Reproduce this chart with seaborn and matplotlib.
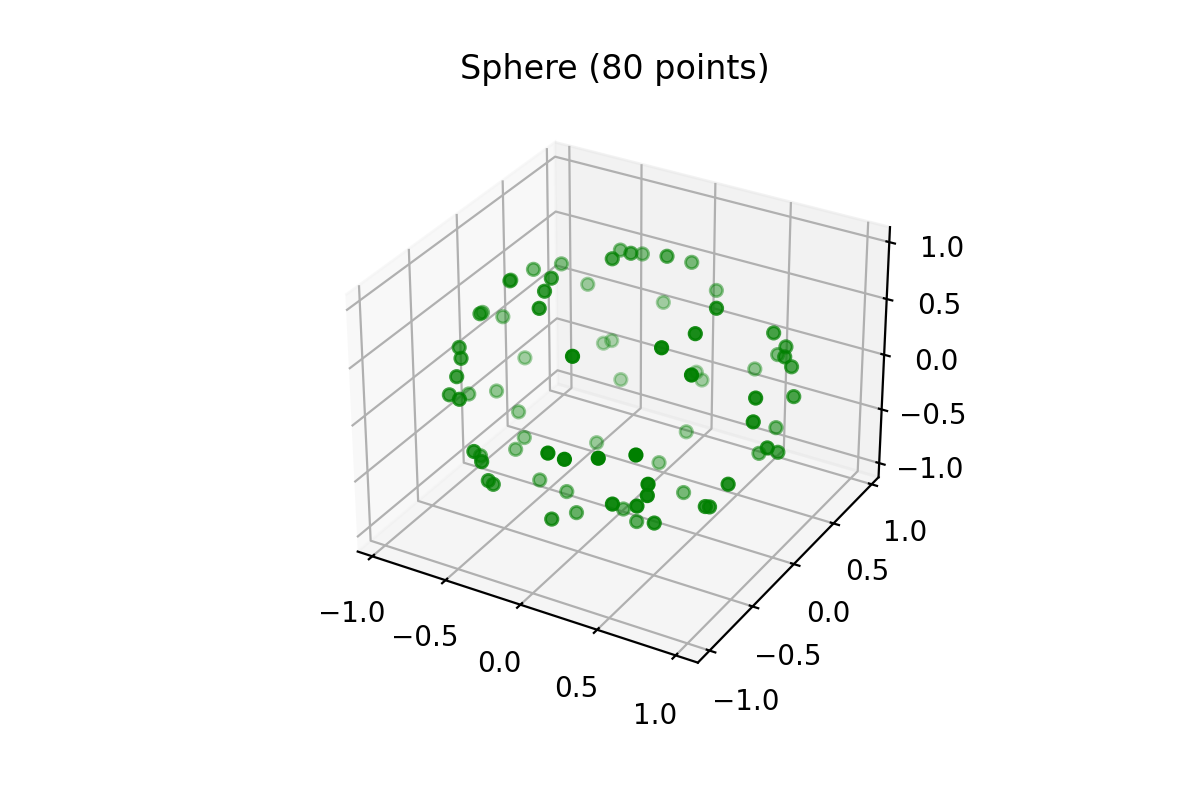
import numpy as np
import matplotlib
matplotlib.use("Agg")
import matplotlib.pyplot as plt
import seaborn as sns

TITLE = "Sphere (80 points)"
TICKS = [-1.0, -0.5, 0.0, 0.5, 1.0]

xs = [-.37,-.15,-.12,-.69,-.76,-.38,-.76,-.66,-.34,-.29,-.75,-.96,-.96,-.57,-.53,.07,-.78,-.71,-.88,-.69,
      -.42,-.75,-.61,-.94,-.90,-.78,-.68,-.66,.10,.20,.38,-.36,.56,-.45,-.68,-.38,-.41,-.39,-.44,-.28,
      -.29,.05,.02,.09,-.27,.55,.57,.48,.76,.80,.58,.86,.87,.40,.67,.00,.05,.93,.94,.96,
      .73,.09,.99,.93,.69,.04,.90,.62,.61,.33,.79,.79,.57,.44,.08,.55,.25,-.10,-.01,-.76]
ys = [.62,.15,.31,.48,.28,-.14,.02,.73,-.28,-.42,-.32,.03,.25,.76,.79,-.66,-.50,-.59,.36,-.67,
      .71,-.66,-.77,-.17,.07,.12,.02,-.11,-.98,-.97,-.91,.32,-.81,-.88,-.46,-.91,-.80,-.78,-.20,-.16,
      .74,.43,.78,.96,.96,.11,-.17,-.39,.41,.49,.82,.36,.43,.88,-.39,.89,.87,-.12,.33,-.20,
      .53,.61,-.08,.17,.40,.37,-.37,-.78,-.77,.15,-.43,-.38,-.62,-.86,-.12,-.78,-.26,-.35,-.77,.03]
zs = [.69,.98,.94,.54,.59,.91,.65,.21,.90,.86,.58,.29,.11,-.32,-.30,.74,.39,.38,-.31,.28,
      -.57,.09,.18,-.31,-.43,-.61,-.74,-.75,.14,.12,.16,-.87,.19,-.14,-.57,-.18,-.44,-.48,-.88,-.95,
      .61,.90,.62,.28,.04,.83,.80,.79,.50,.34,-.03,.36,.23,-.27,.63,-.46,-.50,.35,.06,.21,
      -.44,-.79,-.09,-.33,-.60,-.93,-.24,-.06,-.17,-.93,-.44,-.48,-.54,-.25,-.99,-.28,-.93,-.93,-.64,.65]

sns.reset_orig()
color = sns.color_palette(["green"])[0]

fig = plt.figure(figsize=(6, 4), dpi=200)
ax = fig.add_subplot(projection="3d")
side, cx, cy = 605.5, 614.75, 398.1
ax.set_position([(cx - side / 2) / 1200, (800 - cy - side / 2) / 800, side / 1200, side / 800])
ax.scatter(xs, ys, zs, color=color, s=20)
ax.set_title(TITLE)
ax.set_xticks(TICKS)
ax.set_yticks(TICKS)
ax.set_zticks(TICKS)
ax.set_xlim(-1.101, 1.139)
ax.set_ylim(-1.133, 1.093)
ax.set_zlim(-1.133, 1.13)
fig.savefig("out.png")
